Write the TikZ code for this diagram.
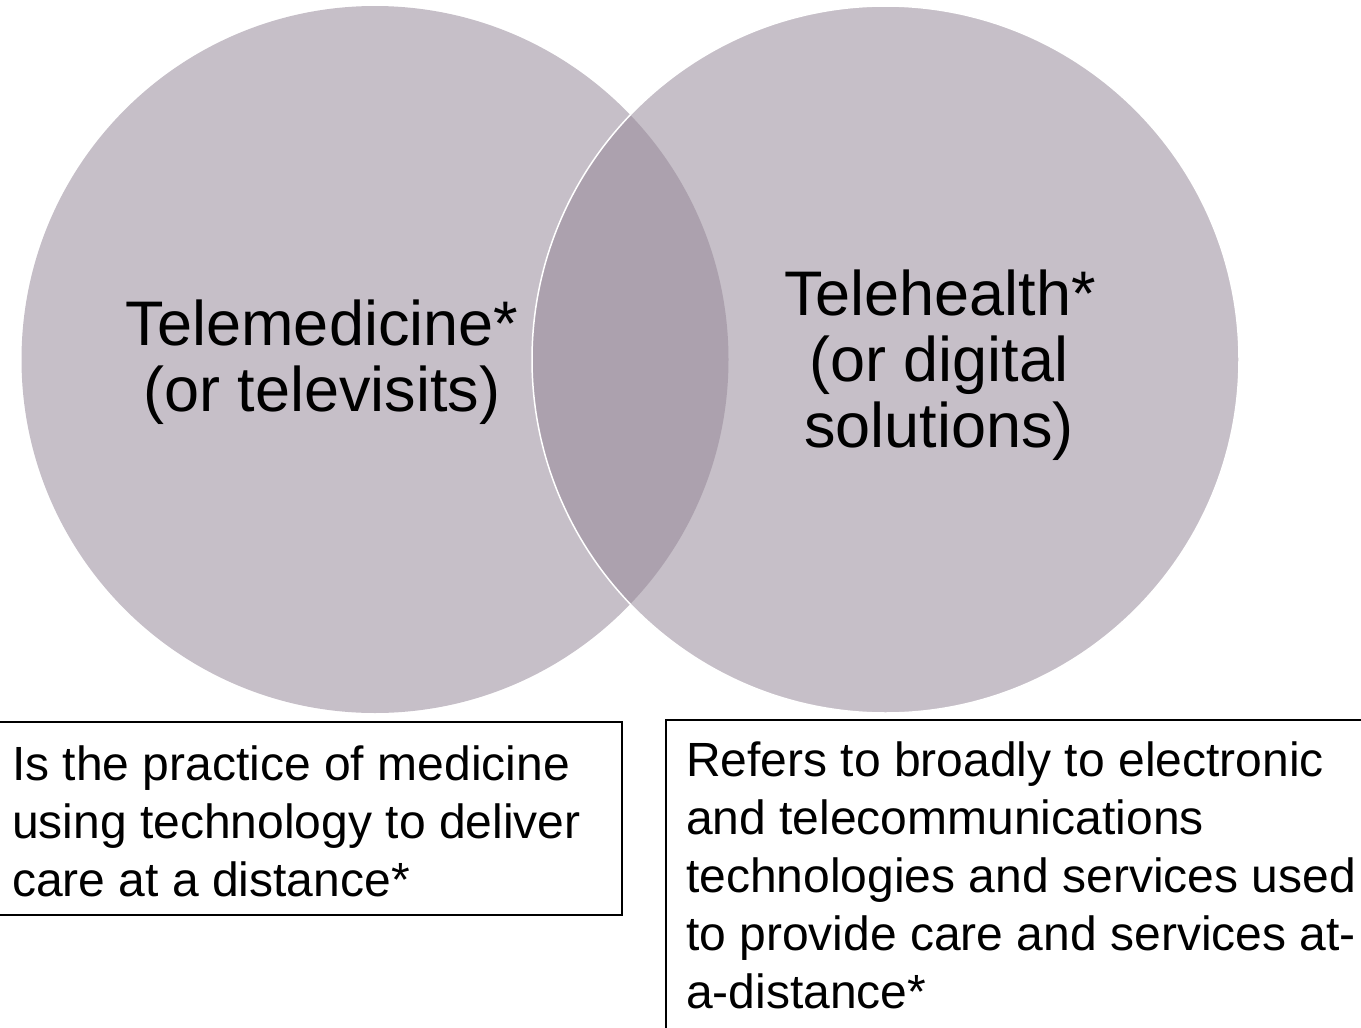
\documentclass[tikz,border=0pt]{standalone}
\usepackage{fontspec}
\setmainfont{Liberation Sans}
\definecolor{vennfill}{HTML}{C6BFC8}
\definecolor{vennover}{HTML}{ACA1AE}
\begin{document}
\begin{tikzpicture}[x=1pt,y=-1pt,
  venn/.style={circle, fill=vennfill, minimum size=707pt, inner sep=0pt, outer sep=0pt},
  title/.style={inner sep=0pt, anchor=base, font=\fontsize{63}{66}\selectfont},
  desc/.style={inner sep=0pt, anchor=base west, font=\fontsize{48}{58}\selectfont},
  defbox/.style={draw=black, line width=2pt, inner sep=0pt, outer sep=0pt, anchor=north west}]
\useasboundingbox (0,0) rectangle (1361,1028);
\clip (0,0) rectangle (1361,1028);

% the two circles
\node[venn] (med) at (375,359.5) {};
\node[venn] (health) at (885.5,359.5) {};
% darker lens where they overlap
\begin{scope}
  \clip (med.center) circle[radius=353.5pt];
  \fill[vennover] (health.center) circle[radius=353.5pt];
\end{scope}
% thin white rim of the right circle
\draw[white, line width=1.5pt] (health.center) circle[radius=353.5pt];

% circle labels
\node[title] (medt1) at (322,345) {Telemedicine*};
\node[title] (medt2) at (322,411) {(or televisits)};
\node[title] (healtht1) at (940,315) {Telehealth*};
\node[title] (healtht2) at (939,381) {(or digital};
\node[title] (healtht3) at (939,447) {solutions)};

% definition boxes
\node[defbox, minimum width=632pt, minimum height=193pt] (medbox) at (-10,722) {};
\node[defbox, minimum width=720pt, minimum height=400pt] (healthbox) at (666,720) {};

\node[desc] (medd1) at (12,780) {Is the practice of medicine};
\node[desc] (medd2) at (12,838) {using technology to deliver};
\node[desc] (medd3) at (12,896) {care at a distance*};

\node[desc] (healthd1) at (686,776) {Refers to broadly to electronic};
\node[desc] (healthd2) at (686,834) {and telecommunications};
\node[desc] (healthd3) at (686,892) {technologies and services used};
\node[desc] (healthd4) at (686,950) {to provide care and services at-};
\node[desc] (healthd5) at (686,1008) {a-distance*};
\end{tikzpicture}
\end{document}
